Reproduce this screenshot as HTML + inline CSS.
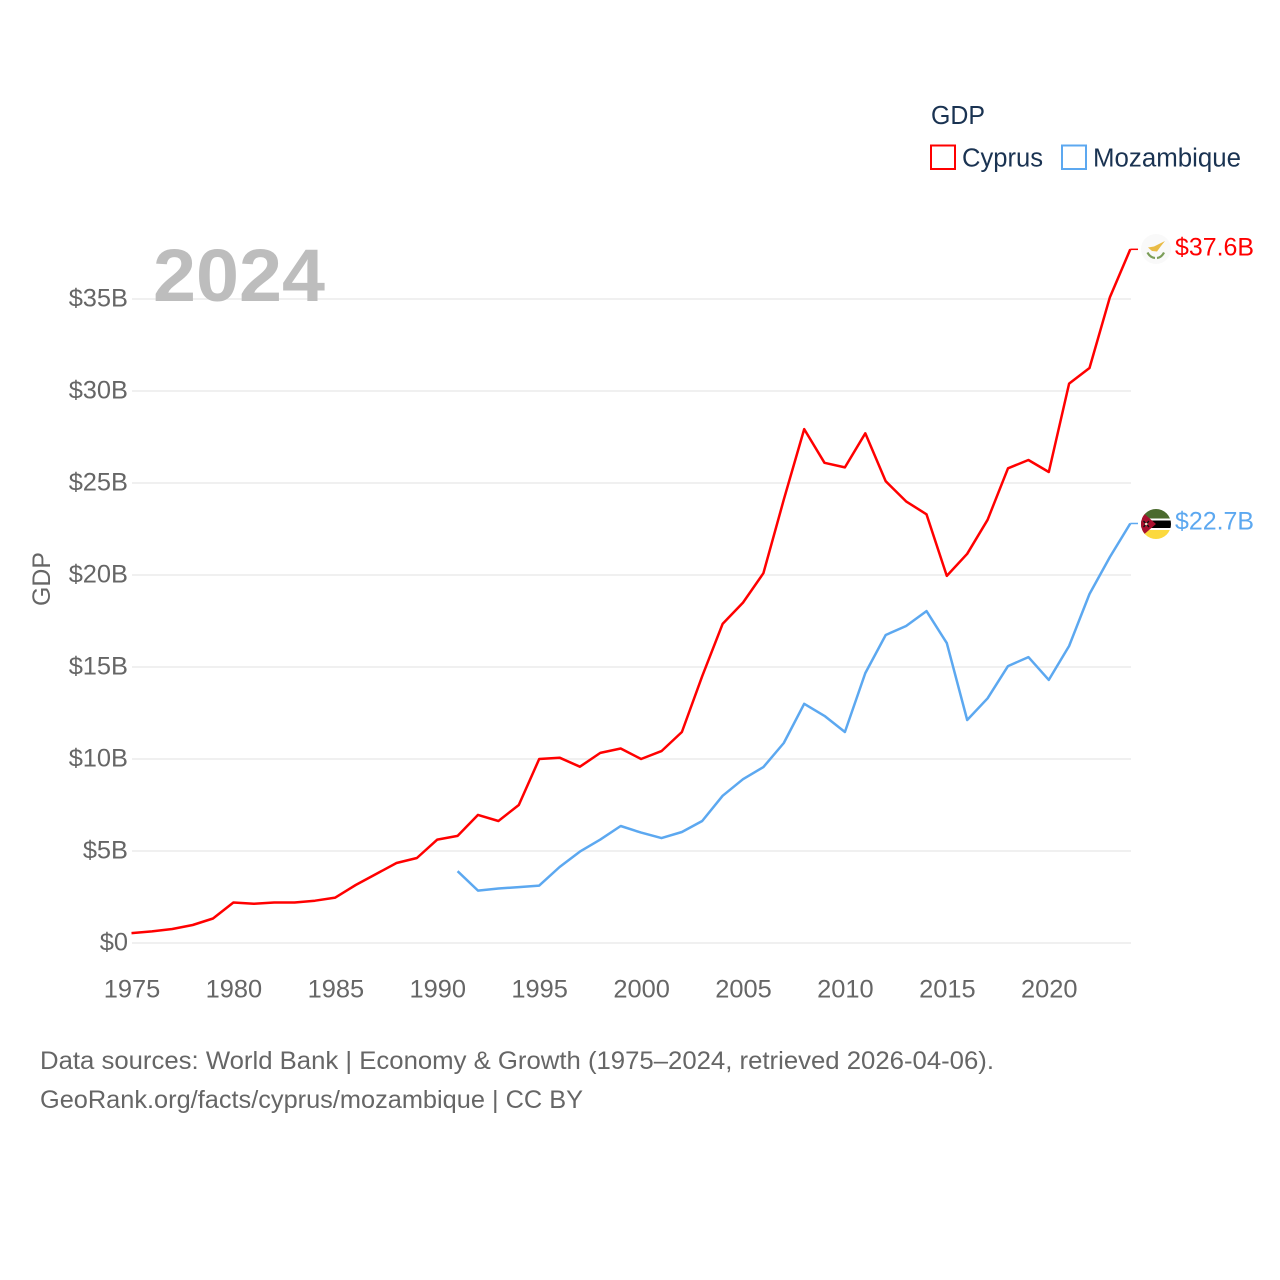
<!DOCTYPE html>
<html lang="en">
<head>
<meta charset="utf-8">
<title>GDP: Cyprus and Mozambique</title>
<style>
html,body{margin:0;padding:0;background:#fff;width:1280px;height:1280px;overflow:hidden}
svg{display:block}
text{font-family:"Liberation Sans",sans-serif}
</style>
</head>
<body>
<svg id="chart" xmlns="http://www.w3.org/2000/svg" width="1280" height="1280" viewBox="0 0 1280 1280">
  <rect width="1280" height="1280" fill="#ffffff"/>
  <g id="grid"></g>
  <text x="153" y="301" font-size="74" font-weight="700" fill="#bdbdbd" textLength="172" lengthAdjust="spacingAndGlyphs">2024</text>
  <g id="y-ticks"></g>
  <g id="x-ticks"></g>
  <text transform="translate(50,579) rotate(-90)" text-anchor="middle" font-size="25" fill="#666666" textLength="54" lengthAdjust="spacingAndGlyphs">GDP</text>
  <g id="series"></g>

  <g>
    <text x="931" y="124" font-size="25.5" fill="#1a3352" textLength="54" lengthAdjust="spacingAndGlyphs">GDP</text>
    <g>
      <rect x="931" y="145.500" width="24" height="23.500" fill="none" stroke="#ff0000" stroke-width="2"/>
      <text x="962" y="166.500" font-size="25.500" fill="#1a3352" textLength="81" lengthAdjust="spacingAndGlyphs">Cyprus</text>
    </g>
    <g>
      <rect x="1062" y="145.500" width="24" height="23.500" fill="none" stroke="#5ca8f0" stroke-width="2"/>
      <text x="1093" y="166.500" font-size="25.500" fill="#1a3352" textLength="148" lengthAdjust="spacingAndGlyphs">Mozambique</text>
    </g>
  </g>

  <defs>
    <clipPath id="clip-cy"><circle cx="1156" cy="249" r="15"/></clipPath>
    <clipPath id="clip-mz"><circle cx="1156" cy="524" r="15"/></clipPath>
  </defs>

  <g clip-path="url(#clip-cy)">
    <rect x="1141" y="234" width="30" height="30" fill="#f9f9f9"/>
    <path d="M1148 247.500 L1154 246.500 L1160 243.500 L1165 241 L1161 246 L1157 251.500 L1152 251 Z" fill="#e9bb45"/>
    <path d="M1147.500 252.500 Q1150 257.500 1155 258 M1164 252.500 Q1161.500 257.500 1157 258" fill="none" stroke="#7b9d58" stroke-width="2.200"/>
  </g>

  <g clip-path="url(#clip-mz)">
    <rect x="1141" y="509" width="30" height="9.500" fill="#4a6a2d"/>
    <rect x="1141" y="518.500" width="30" height="2" fill="#ffffff"/>
    <rect x="1141" y="520.500" width="30" height="7.500" fill="#000000"/>
    <rect x="1141" y="528" width="30" height="2" fill="#ffffff"/>
    <rect x="1141" y="530" width="30" height="9" fill="#fcd93e"/>
    <path d="M1141 511 L1156 524 L1141 537 Z" fill="#a80f2e"/>
    <path d="M1143.500 521 L1149 527 M1149 521 L1143.500 527" stroke="#111111" stroke-width="1.300"/>
    <circle cx="1146.200" cy="524" r="1.300" fill="#e8e0c8"/>
  </g>

  <g id="end-labels"></g>

  <g>
    <text x="40" y="1069" font-size="25" fill="#666666" textLength="954" lengthAdjust="spacingAndGlyphs">Data sources: World Bank | Economy &amp; Growth (1975–2024, retrieved 2026-04-06).</text>
    <text x="40" y="1108" font-size="25" fill="#666666" textLength="543" lengthAdjust="spacingAndGlyphs">GeoRank.org/facts/cyprus/mozambique | CC BY</text>
  </g>
</svg>
<script>
const yTickValues = [0, 5, 10, 15, 20, 25, 30, 35];
const yTickLabels = ["$0", "$5B", "$10B", "$15B", "$20B", "$25B", "$30B", "$35B"];
const xTickYears = [1975, 1980, 1985, 1990, 1995, 2000, 2005, 2010, 2015, 2020];
const cyprusStartYear = 1975;
const cyprusValues = [0.54, 0.63, 0.76, 0.98, 1.33, 2.2, 2.13, 2.2, 2.2, 2.3, 2.47, 3.15, 3.75, 4.35, 4.62, 5.62, 5.82, 6.96, 6.63, 7.5, 10.0, 10.07, 9.58, 10.33, 10.57, 10.0, 10.43, 11.47, 14.5, 17.34, 18.5, 20.1, 24.1, 27.93, 26.1, 25.85, 27.7, 25.1, 24.0, 23.3, 19.95, 21.15, 23.0, 25.8, 26.25, 25.6, 30.4, 31.25, 35.1, 37.7];
const mozambiqueStartYear = 1991;
const mozambiqueValues = [3.9, 2.85, 2.96, 3.04, 3.12, 4.13, 4.97, 5.62, 6.36, 6.0, 5.7, 6.03, 6.63, 8.0, 8.9, 9.56, 10.87, 13.0, 12.34, 11.47, 14.67, 16.74, 17.23, 18.04, 16.3, 12.12, 13.3, 15.05, 15.54, 14.3, 16.14, 18.97, 20.98, 22.8];
const cyprusEndLabel = "$37.6B";
const mozambiqueEndLabel = "$22.7B";

const NS = "http://www.w3.org/2000/svg";
const xScale = function (year) { return 131.5 + (year - 1975) * (1130.3 - 131.5) / 49; };
const yScale = function (v) { return 943 - v * (943 - 299) / 35; };

function make(tag, parent, attrs) {
  const el = document.createElementNS(NS, tag);
  for (const k in attrs) el.setAttribute(k, attrs[k]);
  parent.appendChild(el);
  return el;
}

const gridG = document.getElementById("grid");
const yG = document.getElementById("y-ticks");
yTickValues.forEach(function (v, i) {
  const ln = make("line", gridG, { x1: 132, x2: 1131, y1: yScale(v), y2: yScale(v), stroke: "#ececec", "stroke-width": 1.6 });
  
  
  const t = make("text", yG, { x: 128, y: yScale(v) + 7.5, "text-anchor": "end", "font-size": 25.4, fill: "#666666" });
  
  
  t.textContent = yTickLabels[i];
});

const xG = document.getElementById("x-ticks");
xTickYears.forEach(function (yr) {
  const t = make("text", xG, { x: xScale(yr) + 0.5, y: 997.5, "text-anchor": "middle", "font-size": 25.4, fill: "#666666" });
  
  
  t.textContent = String(yr);
});

function linePoints(values, startYear) {
  return values.map(function (v, i) {
    return xScale(startYear + i).toFixed(1) + "," + yScale(v).toFixed(1);
  });
}

const seriesG = document.getElementById("series");
const labelsG = document.getElementById("end-labels");

const cyPts = linePoints(cyprusValues, cyprusStartYear);
const cyLine = make("polyline", seriesG, { points: cyPts.join(" "), fill: "none", stroke: "#ff0000", "stroke-width": 2.5, "stroke-linejoin": "round" });


const cyEndY = yScale(cyprusValues[cyprusValues.length - 1]);
const cyConn = make("line", seriesG, { x1: xScale(2024), x2: 1138, y1: cyEndY, y2: cyEndY, stroke: "#ff0000", "stroke-width": 1.5 });


const cyText = make("text", labelsG, { x: 1175, y: cyEndY + 6, "font-size": 25, fill: "#ff0000", textLength: 79, lengthAdjust: "spacingAndGlyphs" });


cyText.textContent = cyprusEndLabel;

const mzPts = linePoints(mozambiqueValues, mozambiqueStartYear);
const mzLine = make("polyline", seriesG, { points: mzPts.join(" "), fill: "none", stroke: "#5ca8f0", "stroke-width": 2.5, "stroke-linejoin": "round" });


const mzEndY = yScale(mozambiqueValues[mozambiqueValues.length - 1]);
const mzConn = make("line", seriesG, { x1: xScale(2024), x2: 1138, y1: mzEndY, y2: mzEndY, stroke: "#5ca8f0", "stroke-width": 1.5 });


const mzText = make("text", labelsG, { x: 1175, y: mzEndY + 6, "font-size": 25, fill: "#5ca8f0", textLength: 79, lengthAdjust: "spacingAndGlyphs" });


mzText.textContent = mozambiqueEndLabel;
</script>
</body>
</html>
